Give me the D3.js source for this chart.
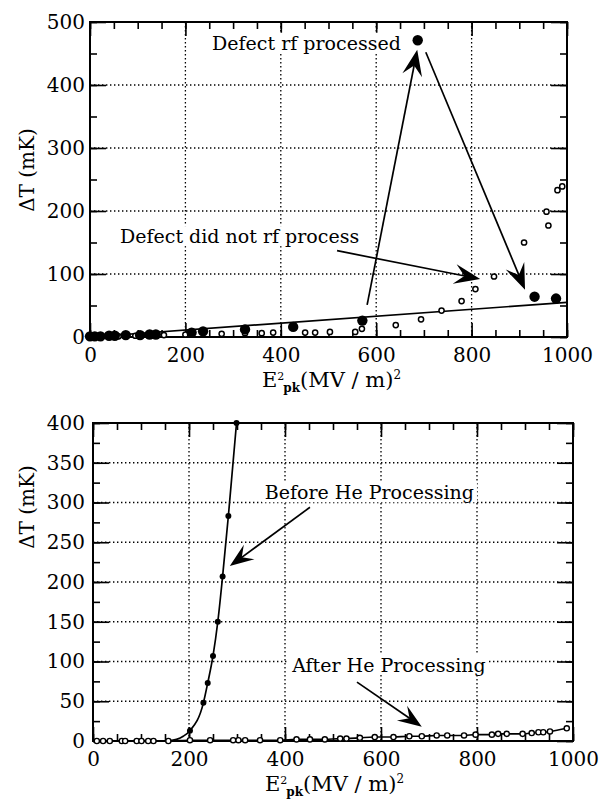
<!DOCTYPE html>
<html>
<head>
<meta charset="utf-8">
<script src="https://cdnjs.cloudflare.com/ajax/libs/d3/7.8.5/d3.min.js"></script>
<style>
  body { margin: 0; background: #fff; }
  svg { display: block; }
</style>
</head>
<body>
<svg width="607" height="803"></svg>
<script>
// ---- top panel data (defect rf processing) ----
var topFilledX = [0, 10, 22, 40, 52, 75, 105, 125, 138, 213, 237, 325, 426, 571, 687, 932, 977];
var topFilledY = [1, 1, 1, 2, 2, 3, 3, 4, 4, 7, 9, 12, 16, 26, 471, 64, 61];
var topOpenX = [3, 12, 25, 45, 60, 95, 155, 200, 276, 325, 360, 384, 451, 472, 503, 556, 570, 641, 694, 737, 779, 808, 847, 910, 957, 961, 980, 990];
var topOpenY = [1, 1, 1, 1, 1, 2, 3, 4, 5, 6, 6, 7, 7, 7, 8, 8, 13, 19, 28, 42, 57, 76, 96, 150, 199, 177, 233, 239];
var topFitX = [0, 1000];
var topFitY = [0, 55];

// ---- bottom panel data (He processing) ----
var beforeX = [157, 174, 188, 202, 230, 239, 250, 260, 270, 282, 299];
var beforeY = [0, 2, 6, 13, 48, 73, 107, 150, 207, 283, 400];
var afterX = [8, 21, 35, 60, 67, 91, 101, 115, 126, 157, 202, 244, 292, 303, 317, 348, 390, 424, 452, 483, 515, 528, 556, 587, 626, 659, 685, 716, 738, 773, 797, 831, 844, 862, 895, 914, 928, 938, 952, 987];
var afterY = [0, 0, 0, 0, 0, 0, 0, 0, 0, 0, 1, 1, 1, 1, 1, 1, 1, 2, 2, 2, 3, 3, 4, 5, 5, 6, 6, 7, 7, 7, 8, 8, 9, 9, 9, 10, 11, 11, 12, 16];

// annotations, in data units: [fromX, fromY, tipX, tipY]
var topArrows = [[581, 51, 686, 456], [704, 452, 912, 75], [518, 137, 818, 92]];
var topNotes = [["Defect rf processed", 256, 456], ["Defect did not rf process", 63, 149]];
var bottomArrows = [[452, 294, 285, 220], [550, 74, 685, 18]];
var bottomNotes = [["Before He Processing", 358, 304], ["After He Processing", 415, 87]];

var svg = d3.select("svg");
var FONT = "DejaVu Serif, serif";

function drawPanel(p) {
  var x = d3.scaleLinear().domain([0, 1000]).range([p.left, p.right]);
  var y = d3.scaleLinear().domain([0, p.ymax]).range([p.bottom, p.top]);
  var g = svg.append("g");

  // dotted grid
  g.append("g").selectAll("line").data(p.xGrid).enter().append("line")
    .attr("x1", function (d) { return x(d); }).attr("x2", function (d) { return x(d); })
    .attr("y1", p.top).attr("y2", p.bottom)
    .attr("stroke", "#000").attr("stroke-width", 1.3).attr("stroke-dasharray", "1.4,2.6");
  g.append("g").selectAll("line").data(p.yGrid).enter().append("line")
    .attr("y1", function (d) { return y(d); }).attr("y2", function (d) { return y(d); })
    .attr("x1", p.left).attr("x2", p.right)
    .attr("stroke", "#000").attr("stroke-width", 1.3).attr("stroke-dasharray", "1.4,2.6");

  // inward ticks on all four sides
  var xMinor = d3.range(0, 1001, 50), xMajor = d3.range(0, 1001, 200);
  var yMinor = d3.range(0, p.ymax + 1, p.yMinorStep), yMajor = d3.range(0, p.ymax + 1, p.yMajorStep);
  function ticks(axis, vals, size, tr) {
    var a = g.append("g").attr("transform", tr)
      .call(axis.tickValues(vals).tickSizeInner(-size).tickSizeOuter(0).tickFormat(""));
    a.select(".domain").remove();
    a.selectAll("line").attr("stroke-width", 1.6);
  }
  ticks(d3.axisBottom(x), xMinor, 7, "translate(0," + p.bottom + ")");
  ticks(d3.axisBottom(x), xMajor, 14, "translate(0," + p.bottom + ")");
  ticks(d3.axisTop(x), xMinor, 7, "translate(0," + p.top + ")");
  ticks(d3.axisTop(x), xMajor, 14, "translate(0," + p.top + ")");
  ticks(d3.axisLeft(y), yMinor, 7, "translate(" + p.left + ",0)");
  ticks(d3.axisLeft(y), yMajor, 16, "translate(" + p.left + ",0)");
  ticks(d3.axisRight(y), yMinor, 7, "translate(" + p.right + ",0)");
  ticks(d3.axisRight(y), yMajor, 16, "translate(" + p.right + ",0)");

  // tick labels
  var xl = g.append("g").attr("transform", "translate(0," + p.bottom + ")")
    .call(d3.axisBottom(x).tickValues(xMajor).tickSize(0).tickPadding(11).tickFormat(d3.format("d")));
  xl.select(".domain").remove();
  xl.attr("font-family", FONT).attr("font-size", 20);
  var yl = g.append("g").attr("transform", "translate(" + p.left + ",0)")
    .call(d3.axisLeft(y).tickValues(yMajor).tickSize(0).tickPadding(p.left - 85).tickFormat(d3.format("d")));
  yl.select(".domain").remove();
  yl.attr("font-family", FONT).attr("font-size", 20);
  g.selectAll(".tick text").attr("fill", "#000");

  // frame
  g.append("rect").attr("x", p.left).attr("y", p.top)
    .attr("width", p.right - p.left).attr("height", p.bottom - p.top)
    .attr("fill", "none").attr("stroke", "#000").attr("stroke-width", 2);

  // axis titles
  svg.append("text").attr("font-family", FONT).attr("font-size", 20)
    .attr("text-anchor", "middle")
    .attr("transform", "translate(34," + p.yTitleY + ") rotate(-90)")
    .text("ΔT (mK)");
  var t = svg.append("text").attr("font-family", FONT).attr("font-size", 21)
    .attr("x", p.left + 172).attr("y", p.bottom + 50);
  t.append("tspan").text("E");
  t.append("tspan").attr("font-size", 11).attr("dy", -7).text("2");
  t.append("tspan").attr("font-size", 12).attr("font-weight", "bold").attr("dx", -1).attr("dy", 12).text("pk");
  t.append("tspan").attr("dy", -5).text("(MV / m)");
  t.append("tspan").attr("font-size", 12).attr("dy", -8).text("2");

  return { g: g, x: x, y: y };
}

function drawArrows(panel, arrows, L, W) {
  arrows.forEach(function (a) {
    var x0 = panel.x(a[0]), y0 = panel.y(a[1]), x1 = panel.x(a[2]), y1 = panel.y(a[3]);
    var ang = Math.atan2(y1 - y0, x1 - x0);
    var c = Math.cos(ang), s = Math.sin(ang);
    function pt(u, v) { return [x1 + u * c - v * s, y1 + u * s + v * c]; }
    panel.g.append("line")
      .attr("x1", x0).attr("y1", y0).attr("x2", pt(-L * 0.6, 0)[0]).attr("y2", pt(-L * 0.6, 0)[1])
      .attr("stroke", "#000").attr("stroke-width", 1.7);
    panel.g.append("path")
      .attr("d", "M" + [pt(0, 0), pt(-L, -W / 2), pt(-L * 0.62, 0), pt(-L, W / 2)].join("L") + "Z")
      .attr("fill", "#000");
  });
}

function drawNotes(panel, notes) {
  notes.forEach(function (n) {
    var gg = panel.g.append("g");
    var bg = gg.append("rect").attr("fill", "#fff");
    var tx = gg.append("text").attr("font-family", FONT).attr("font-size", 19)
      .attr("x", panel.x(n[1])).attr("y", panel.y(n[2])).text(n[0]);
    var b = tx.node().getBBox();
    bg.attr("x", b.x - 3).attr("y", b.y + 1).attr("width", b.width + 6).attr("height", b.height - 2);
  });
}

function zip(xs, ys) { return xs.map(function (v, i) { return [v, ys[i]]; }); }

// ---- top panel ----
var P1 = drawPanel({ left: 90, right: 567, top: 22, bottom: 337, ymax: 500,
  yMinorStep: 50, yMajorStep: 100, xGrid: [200, 400, 600, 800], yGrid: [100, 200, 300, 400], yTitleY: 170 });
drawNotes(P1, topNotes);
P1.g.append("path").datum(zip(topFitX, topFitY))
  .attr("d", d3.line().x(function (d) { return P1.x(d[0]); }).y(function (d) { return P1.y(d[1]); }))
  .attr("fill", "none").attr("stroke", "#000").attr("stroke-width", 1.7);
P1.g.append("g").selectAll("circle").data(zip(topOpenX, topOpenY)).enter().append("circle")
  .attr("cx", function (d) { return P1.x(d[0]); }).attr("cy", function (d) { return P1.y(d[1]); })
  .attr("r", 2.6).attr("fill", "#fff").attr("stroke", "#000").attr("stroke-width", 1.5);
P1.g.append("g").selectAll("circle").data(zip(topFilledX, topFilledY)).enter().append("circle")
  .attr("cx", function (d) { return P1.x(d[0]); }).attr("cy", function (d) { return P1.y(d[1]); })
  .attr("r", 5.2).attr("fill", "#000");
drawArrows(P1, topArrows, 26, 20);

// ---- bottom panel ----
var P2 = drawPanel({ left: 93, right: 573, top: 423, bottom: 741, ymax: 400,
  yMinorStep: 25, yMajorStep: 50, xGrid: [200, 400, 600, 800], yGrid: [50, 100, 150, 200, 250, 300, 350], yTitleY: 507 });
drawNotes(P2, bottomNotes);
var line2 = d3.line().curve(d3.curveMonotoneX)
  .x(function (d) { return P2.x(d[0]); }).y(function (d) { return P2.y(d[1]); });
P2.g.append("path").datum(zip(afterX, afterY)).attr("d", line2)
  .attr("fill", "none").attr("stroke", "#000").attr("stroke-width", 1.6);
P2.g.append("path").datum(zip(beforeX, beforeY)).attr("d", line2)
  .attr("fill", "none").attr("stroke", "#000").attr("stroke-width", 1.7);
P2.g.append("g").selectAll("circle").data(zip(afterX, afterY)).enter().append("circle")
  .attr("cx", function (d) { return P2.x(d[0]); }).attr("cy", function (d) { return P2.y(d[1]); })
  .attr("r", 2.6).attr("fill", "#fff").attr("stroke", "#000").attr("stroke-width", 1.4);
P2.g.append("g").selectAll("circle").data(zip(beforeX, beforeY).slice(3)).enter().append("circle")
  .attr("cx", function (d) { return P2.x(d[0]); }).attr("cy", function (d) { return P2.y(d[1]); })
  .attr("r", 3).attr("fill", "#000");
drawArrows(P2, bottomArrows, 24, 18);
</script>
</body>
</html>
